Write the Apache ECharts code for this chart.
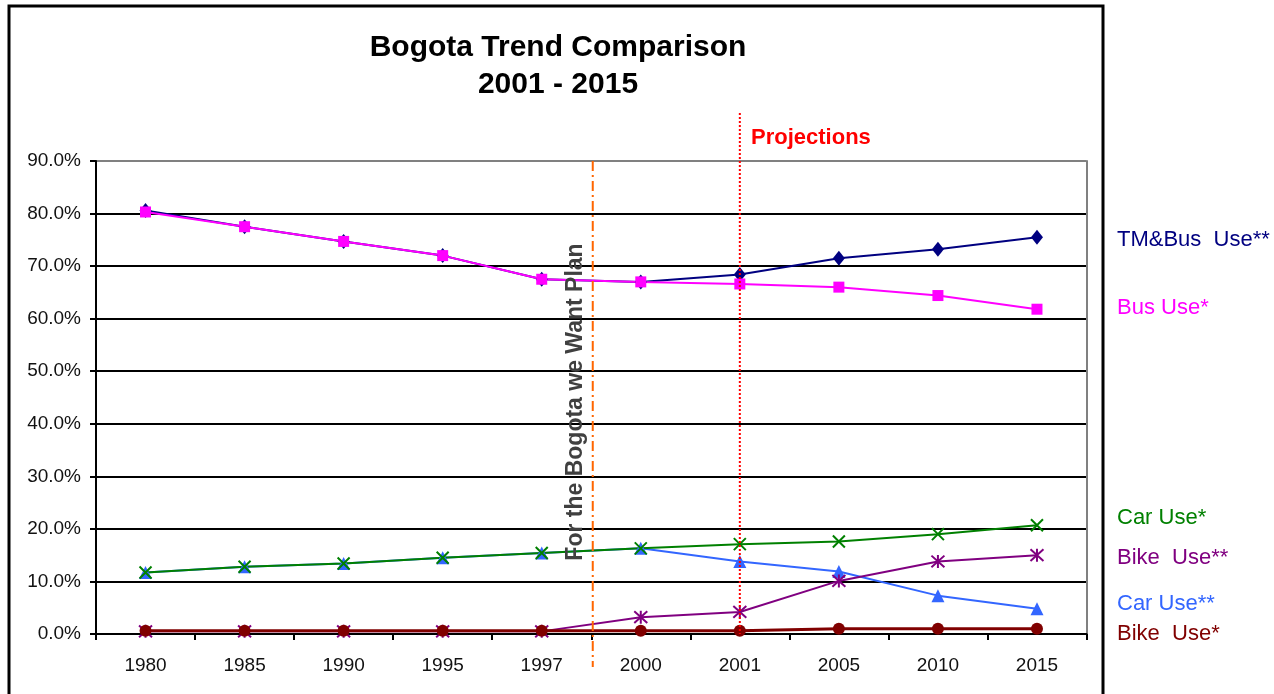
<!DOCTYPE html>
<html>
<head>
<meta charset="utf-8">
<script src="https://cdn.jsdelivr.net/npm/echarts@6/dist/echarts.min.js"></script>
<style>
  html, body { margin: 0; padding: 0; background: #fff; }
  #chart { width: 1274px; height: 694px; }
</style>
</head>
<body>
<div id="chart"></div>
<script>
// --- Data ---
const years = ['1980', '1985', '1990', '1995', '1997', '2000', '2001', '2005', '2010', '2015'];
const tmBusUse = [80.6, 77.5, 74.7, 72.0, 67.5, 67.0, 68.4, 71.5, 73.2, 75.5];
const busUse = [80.3, 77.5, 74.7, 72.0, 67.5, 67.0, 66.6, 66.0, 64.4, 61.8];
const carUseStar = [11.7, 12.8, 13.4, 14.5, 15.4, 16.3, 17.1, 17.6, 19.0, 20.7];
const carUseDouble = [11.7, 12.8, 13.4, 14.5, 15.4, 16.3, 13.8, 11.9, 7.3, 4.8];
const bikeUseDouble = [0.5, 0.5, 0.5, 0.5, 0.5, 3.2, 4.2, 10.1, 13.8, 15.0];
const bikeUseStar = [0.6, 0.6, 0.6, 0.6, 0.6, 0.6, 0.6, 1.0, 1.0, 1.0];
const yTicks = [0, 10, 20, 30, 40, 50, 60, 70, 80, 90];

const FONT = '"Liberation Sans", Arial, sans-serif';
const crossPath = 'path://M0,0L10,10M10,0L0,10';
const starPath = 'path://M5,0L5,10M0.5,0.5L9.5,9.5M9.5,0.5L0.5,9.5';

const chart = echarts.init(document.getElementById('chart'));

const lineSeries = (name, data, color, symbol, size, stroked, width = 2) => ({
    name, type: 'line', data,
    symbol, symbolSize: size,
    lineStyle: { color, width },
    itemStyle: stroked
        ? { color: 'none', borderColor: color, borderWidth: 2 }
        : { color, borderColor: color, borderWidth: 0 },
    emphasis: { disabled: true },
    animation: false
});

chart.setOption({
    animation: false,
    backgroundColor: '#fff',
    grid: { left: 96, right: 187.5, top: 161, bottom: 60 },
    xAxis: {
        type: 'category', data: years, boundaryGap: true,
        axisLine: { lineStyle: { color: '#000', width: 2 } },
        axisTick: { show: true, length: 6, lineStyle: { color: '#000', width: 2 } },
        axisLabel: { color: '#111', fontFamily: FONT, fontSize: 19, margin: 22 },
        splitLine: { show: false }
    },
    yAxis: [{
        type: 'value', min: 0, max: 90, interval: 10,
        axisLine: { show: true, lineStyle: { color: '#000', width: 2 } },
        axisTick: { show: true, length: 6, lineStyle: { color: '#000', width: 2 } },
        axisLabel: { color: '#111', fontFamily: FONT, fontSize: 19, margin: 15, formatter: v => v.toFixed(1) + '%' },
        splitLine: { show: true, lineStyle: { width: 2, color: yTicks.map(t => t === 90 ? '#808080' : '#000') } }
    }, {
        type: 'value', min: 0, max: 90, interval: 10, position: 'right',
        axisLine: { show: true, lineStyle: { color: '#808080', width: 2 } },
        axisTick: { show: false }, axisLabel: { show: false }, splitLine: { show: false }
    }],
    series: [
        lineSeries('TM&Bus Use**', tmBusUse, '#000080', 'diamond', [12, 15], false),
        lineSeries('Bus Use*', busUse, '#FF00FF', 'rect', 11, false),
        lineSeries('Car Use**', carUseDouble, '#3366FF', 'triangle', 13, false),
        lineSeries('Car Use*', carUseStar, '#008000', crossPath, 12, true),
        lineSeries('Bike Use**', bikeUseDouble, '#800080', starPath, 13, true),
        lineSeries('Bike Use*', bikeUseStar, '#800000', 'circle', 12, false, 3)
    ]
});

// --- Annotations, placed from the axes ---
const xOf = c => chart.convertToPixel({ xAxisIndex: 0 }, c);
const yOf = v => chart.convertToPixel({ yAxisIndex: 0 }, v);
const planX = (xOf('1997') + xOf('2000')) / 2 + 1.5;
const projX = xOf('2001');
const yTop = yOf(90), yBottom = yOf(0);

const labelText = (text, y, color) => ({
    type: 'text', x: 1117, y,
    style: { text, fill: color, font: `22px ${FONT}`, textVerticalAlign: 'middle' }
});

chart.setOption({
    graphic: [
        { type: 'rect', shape: { x: 9, y: 6, width: 1094, height: 700 }, style: { fill: 'none', stroke: '#000', lineWidth: 3 }, silent: true },
        { type: 'text', x: 558, y: 48, style: { text: 'Bogota Trend Comparison', fill: '#000', font: `bold 30px ${FONT}`, textAlign: 'center', textVerticalAlign: 'middle' } },
        { type: 'text', x: 558, y: 85, style: { text: '2001 - 2015', fill: '#000', font: `bold 30px ${FONT}`, textAlign: 'center', textVerticalAlign: 'middle' } },
        { type: 'line', shape: { x1: planX, y1: yTop, x2: planX, y2: yBottom + 33 }, style: { stroke: '#FF6600', lineWidth: 2, lineDash: [10, 4, 2, 4] }, z: 10 },
        { type: 'line', shape: { x1: projX, y1: 113, x2: projX, y2: yBottom }, style: { stroke: '#FF0000', lineWidth: 2, lineDash: [2, 2] }, z: 10 },
        { type: 'text', x: 751, y: 138, style: { text: 'Projections', fill: '#FF0000', font: `bold 22px ${FONT}`, textVerticalAlign: 'middle' }, z: 10 },
        { type: 'text', x: 576, y: 402, rotation: Math.PI / 2, style: { text: 'For the Bogota we Want Plan', fill: '#404040', font: `bold 23px ${FONT}`, textAlign: 'center', textVerticalAlign: 'middle' }, z: 10 },
        labelText('TM&Bus  Use**', 240, '#000080'),
        labelText('Bus Use*', 308, '#FF00FF'),
        labelText('Car Use*', 518, '#008000'),
        labelText('Bike  Use**', 558, '#800080'),
        labelText('Car Use**', 604, '#3366FF'),
        labelText('Bike  Use*', 634, '#800000')
    ]
});

window.addEventListener('resize', () => chart.resize());
</script>
</body>
</html>
